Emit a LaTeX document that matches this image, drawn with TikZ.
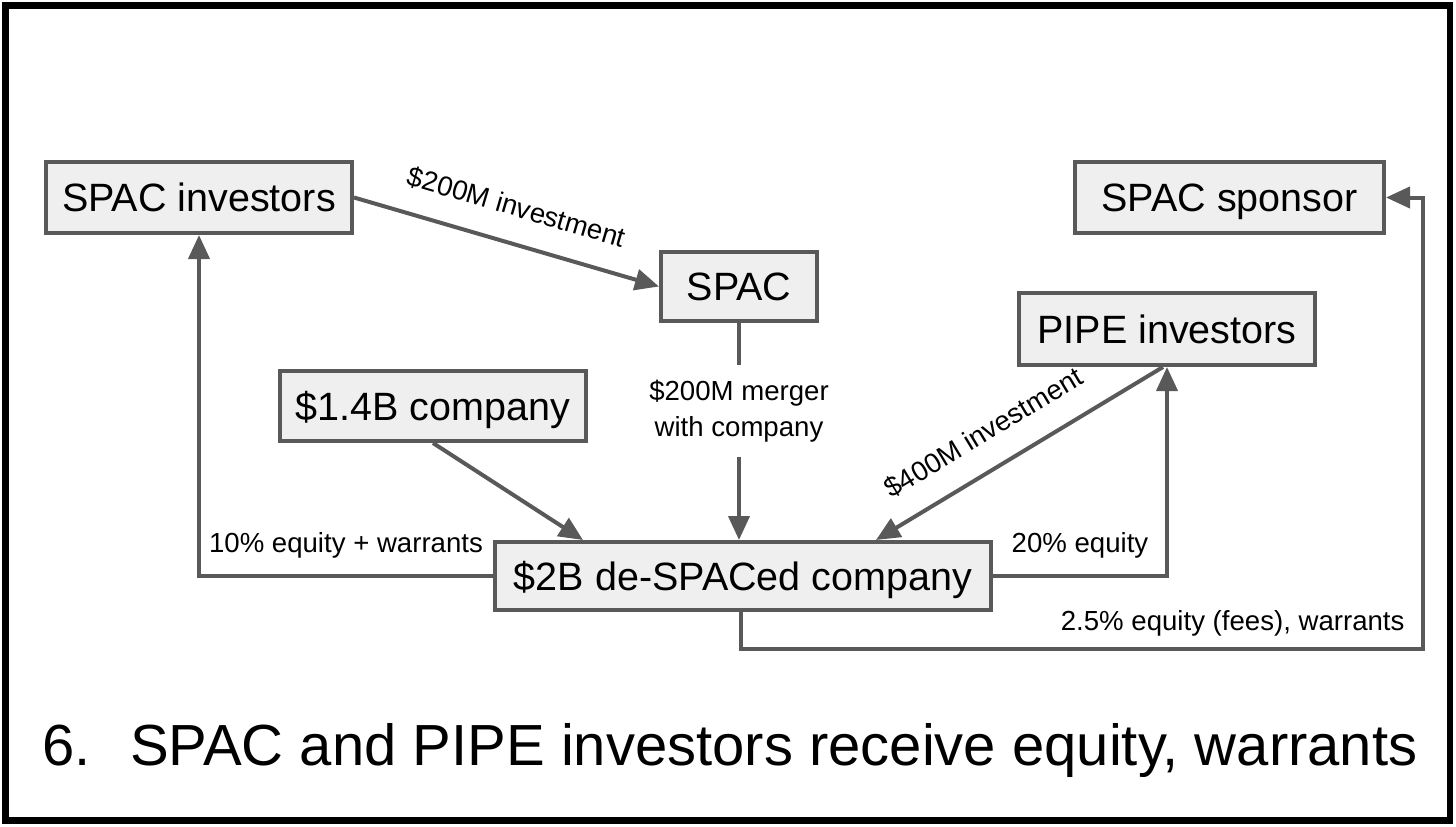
\documentclass[tikz,border=0pt]{standalone}
\usepackage{fontspec}
\setmainfont{Liberation Sans}
\usetikzlibrary{arrows.meta}
\definecolor{lgray}{HTML}{595959}
\definecolor{boxfill}{HTML}{EFEFEF}
\begin{document}
\begin{tikzpicture}[x=1pt,y=-1pt,
  box/.style={draw=lgray, fill=boxfill, line width=4pt, inner sep=0pt,
    font=\fontsize{39.5}{47}\selectfont, text=black, text height=28.3pt, text depth=0pt},
  conn/.style={draw=lgray, line width=4pt, -{Triangle[length=24pt,width=21pt]}},
  lbl/.style={font=\fontsize{27.6}{36}\selectfont, text=black},
  slbl/.style={lbl, sloped, anchor=south, text depth=0pt, inner xsep=0pt, inner ysep=25pt},
]
\useasboundingbox (0,0) rectangle (1456,827);
\draw[line width=6.5pt] (5.5,5.5) rectangle (1450,820.5);

\node[box, minimum width=306pt, minimum height=71pt] (sinv) at (199,197.5) {SPAC investors};
\node[box, minimum width=156pt, minimum height=69pt] (spac) at (739,286.5) {SPAC};
\node[box, minimum width=309pt, minimum height=71pt] (sponsor) at (1229.5,197.5) {SPAC sponsor};
\node[box, minimum width=296pt, minimum height=72pt] (pipe) at (1167,329) {PIPE investors};
\node[box, minimum width=306pt, minimum height=70pt] (co) at (433,406) {\$1.4B company};
\node[box, minimum width=496pt, minimum height=68pt] (desp) at (743,576) {\$2B de-SPACed company};

\coordinate (c1) at (1423,649);

% SPAC investors -> SPAC
\draw[conn] (sinv.east) -- node[slbl, midway] (l1) {\$200M investment} (spac.west);
% SPAC -> de-SPACed
\draw[conn] (spac.south) -- node[lbl, pos=0.405, fill=white, align=center, inner xsep=4pt, inner ysep=15pt] (l2) {\$200M merger\\with company} (spac.south |- desp.north);
% company -> de-SPACed
\draw[conn] (co.south) -- ([xshift=-160pt]desp.north);
% PIPE -> de-SPACed
\draw[draw=lgray, line width=4pt, {Triangle[length=24pt,width=21pt]}-] ([xshift=133pt]desp.north) -- node[slbl, pos=0.44] (l3) {\$400M investment} ([xshift=-4pt]pipe.south);
% de-SPACed -> PIPE
\draw[conn] (desp.east) -| node[lbl, pos=0.25, anchor=base, yshift=24pt] (l4) {20\% equity} (pipe.south);
% de-SPACed -> SPAC investors
\draw[conn] (desp.west) -| node[lbl, pos=0.25, anchor=base, yshift=24pt] (l5) {10\% equity + warrants} (sinv.south);
% de-SPACed -> sponsor
\draw[conn] ([xshift=-2pt]desp.south) |- (c1) |- (sponsor.east);
\node[lbl, anchor=base east] (l6) at ([xshift=-15pt,yshift=19pt]c1) {2.5\% equity (fees), warrants};

% title
\node[anchor=base west, inner sep=0pt, font=\fontsize{58}{68}\selectfont] (num) at (42,765) {6.};
\node[anchor=base west, inner sep=0pt, font=\fontsize{58}{68}\selectfont] (title) at (130,765) {SPAC and PIPE investors receive equity, warrants};
\end{tikzpicture}
\end{document}
